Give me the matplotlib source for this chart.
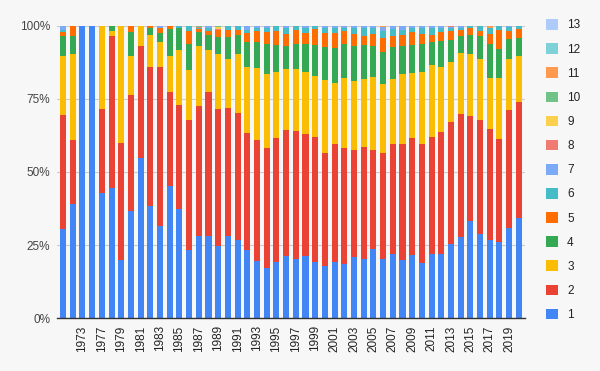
import matplotlib.pyplot as plt
import numpy as np
from matplotlib.patches import Patch


YEARS = [1971, 1972, 1973, 1975] + list(range(1977, 2021))

S1 = [30.4, 39.1, 100, 100, 42.9, 44.5, 19.9, 36.8, 54.6, 38.5, 31.7, 45.2, 37.4, 23.3, 28.1, 28.1,
      24.7, 28.1, 26.8, 23.3, 19.6, 17.3, 19.4, 21.4, 20.3, 21.4, 19.4, 18.0, 19.1, 18.7, 21.0, 20.3,
      23.7, 20.3, 21.9, 19.9, 21.6, 19.0, 22.0, 22.0, 25.4, 27.9, 33.4, 28.8, 26.8, 26.2, 31.0, 34.4]
S2 = [39.2, 21.8, 0, 0, 28.6, 52.1, 40.1, 39.5, 38.6, 47.5, 54.3, 32.2, 35.5, 44.3, 44.5, 49.3,
      46.8, 43.9, 43.4, 40.0, 41.3, 41.0, 42.3, 43.0, 43.7, 41.6, 42.4, 38.6, 40.5, 39.6, 36.5, 38.2,
      33.8, 36.3, 37.7, 39.7, 40.1, 40.6, 40.0, 41.8, 41.5, 41.9, 35.7, 39.0, 37.9, 35.1, 40.2, 39.4]
S3 = [20.0, 29.4, 0, 0, 28.5, 1.6, 40.0, 13.3, 6.8, 10.8, 8.5, 12.2, 18.8, 17.1, 20.5, 14.3,
      18.9, 16.6, 20.2, 22.7, 24.6, 25.2, 22.6, 20.8, 21.2, 21.3, 21.0, 24.8, 20.7, 23.9, 23.7, 23.3,
      25.1, 23.5, 22.2, 23.9, 22.2, 24.7, 24.6, 22.1, 20.5, 21.0, 21.2, 20.8, 17.5, 20.9, 17.4, 15.8]
S4 = [6.9, 6.0, 0, 0, 0, 1.8, 0, 8.1, 0, 2.3, 3.1, 9.3, 7.6, 9.0, 4.8, 5.1,
      5.6, 7.4, 6.4, 8.5, 9.0, 10.1, 9.1, 7.9, 8.5, 9.4, 10.6, 11.3, 12.0, 11.5, 11.9, 11.6,
      10.5, 11.0, 10.9, 9.6, 9.5, 9.4, 7.9, 9.0, 7.7, 5.8, 6.5, 7.9, 11.5, 9.8, 6.8, 6.1]
S5 = [1.4, 3.7, 0, 0, 0, 0, 0, 2.3, 0, 0.9, 1.6, 0.8, 0, 4.6, 0.9, 1.2,
      2.5, 2.5, 1.7, 2.9, 3.5, 4.2, 4.9, 4.1, 4.8, 3.9, 5.5, 4.9, 5.1, 4.3, 4.1, 3.2,
      4.1, 4.8, 3.8, 3.7, 4.3, 3.3, 2.3, 2.8, 3.2, 1.9, 2.3, 1.7, 3.5, 6.5, 2.9, 3.2]
S6 = [0.6, 0, 0, 0, 0, 0, 0, 0, 0, 0, 0, 0.3, 0.7, 1.7, 0.4, 1.2,
      0, 1.5, 1.5, 1.1, 1.2, 1.3, 1.4, 1.9, 1.2, 1.5, 0.8, 1.5, 1.7, 1.1, 1.9, 2.5,
      1.9, 2.3, 2.4, 1.7, 1.6, 2.1, 2.3, 1.6, 1.0, 0.6, 0.9, 1.8, 1.9, 1.5, 1.1, 1.1]
S7 = [1.5, 0, 0, 0, 0, 0, 0, 0, 0, 0, 0.8, 0, 0, 0, 0, 0.8,
      0, 0, 0, 1.5, 0.8, 0.9, 0.3, 0.9, 0.3, 0.9, 0, 0.9, 0.9, 0.9, 0.9, 0.9,
      0.9, 1.3, 1.1, 1.5, 0.7, 0.9, 0.9, 0.7, 0.3, 0.9, 0, 0, 0, 0, 0.6, 0]
S8 = [0] * 14 + [0.4, 0, 0.5] + [0] * 23 + [0.4] + [0] * 7
S9 = [0] * 16 + [0.5] + [0] * 31
S10 = [0] * 14 + [0.4, 0, 0.5] + [0] * 31
S11 = [0] * 33 + [0.5] + [0] * 10 + [0.9] + [0] * 3
S12 = [0] * 48
S13 = [0] * 26 + [0.3] + [0] * 21

SERIES = [S1, S2, S3, S4, S5, S6, S7, S8, S9, S10, S11, S12, S13]
SERIES_NAMES = [str(n) for n in range(1, 14)]
COLORS = ["#4285f4", "#ea4335", "#fbbc04", "#34a853", "#ff6d01", "#46bdc6", "#7baaf7",
          "#f07b72", "#fcd04f", "#71c287", "#ff994d", "#7ed1d7", "#aecbfa"]

BG = "#f7f7f7"


def main() -> None:
    plt.rcParams["font.family"] = ["Liberation Sans", "DejaVu Sans"]
    values = np.array(SERIES, dtype=float)
    shares = values / values.sum(axis=0) * 100

    fig = plt.figure(figsize=(6.0, 3.71), dpi=100, facecolor=BG)
    ax = fig.add_axes([0.095, 0.142, 0.78, 0.789])
    ax.set_facecolor(BG)

    x = np.arange(len(YEARS))
    bottom = np.zeros(len(YEARS))
    for share, color in zip(shares, COLORS):
        ax.bar(x, share, width=0.62, bottom=bottom, color=color, linewidth=0, zorder=2)
        bottom += share

    ax.set_xlim(-0.62, len(YEARS) - 0.37)
    ax.set_ylim(0, 100)
    ax.set_yticks([0, 25, 50, 75, 100])
    ax.set_yticklabels(["0%", "25%", "50%", "75%", "100%"], fontsize=8.5, color="#444444")
    ax.grid(axis="y", color="#cccccc", linewidth=0.8, zorder=0)

    shown = x[2::2]
    ax.set_xticks(shown)
    ax.set_xticklabels([str(YEARS[i]) for i in shown], rotation=90, fontsize=8.5, color="#222222")
    ax.tick_params(length=0, pad=5)
    for side in ("top", "right", "left"):
        ax.spines[side].set_visible(False)
    ax.spines["bottom"].set_color("#333333")
    ax.spines["bottom"].set_linewidth(1.0)
    ax.spines["bottom"].set_zorder(3)

    handles = [Patch(facecolor=c, edgecolor="none") for c in COLORS]
    fig.legend(handles[::-1], SERIES_NAMES[::-1], loc="upper left",
               bbox_to_anchor=(0.892, 0.977), frameon=False, fontsize=8.5,
               handlelength=1.0, handleheight=1.0, handletextpad=0.8,
               labelspacing=1.0, labelcolor="#222222")

    fig.savefig("out.png", dpi=100, facecolor=BG)
    plt.close(fig)


if __name__ == "__main__":
    main()
